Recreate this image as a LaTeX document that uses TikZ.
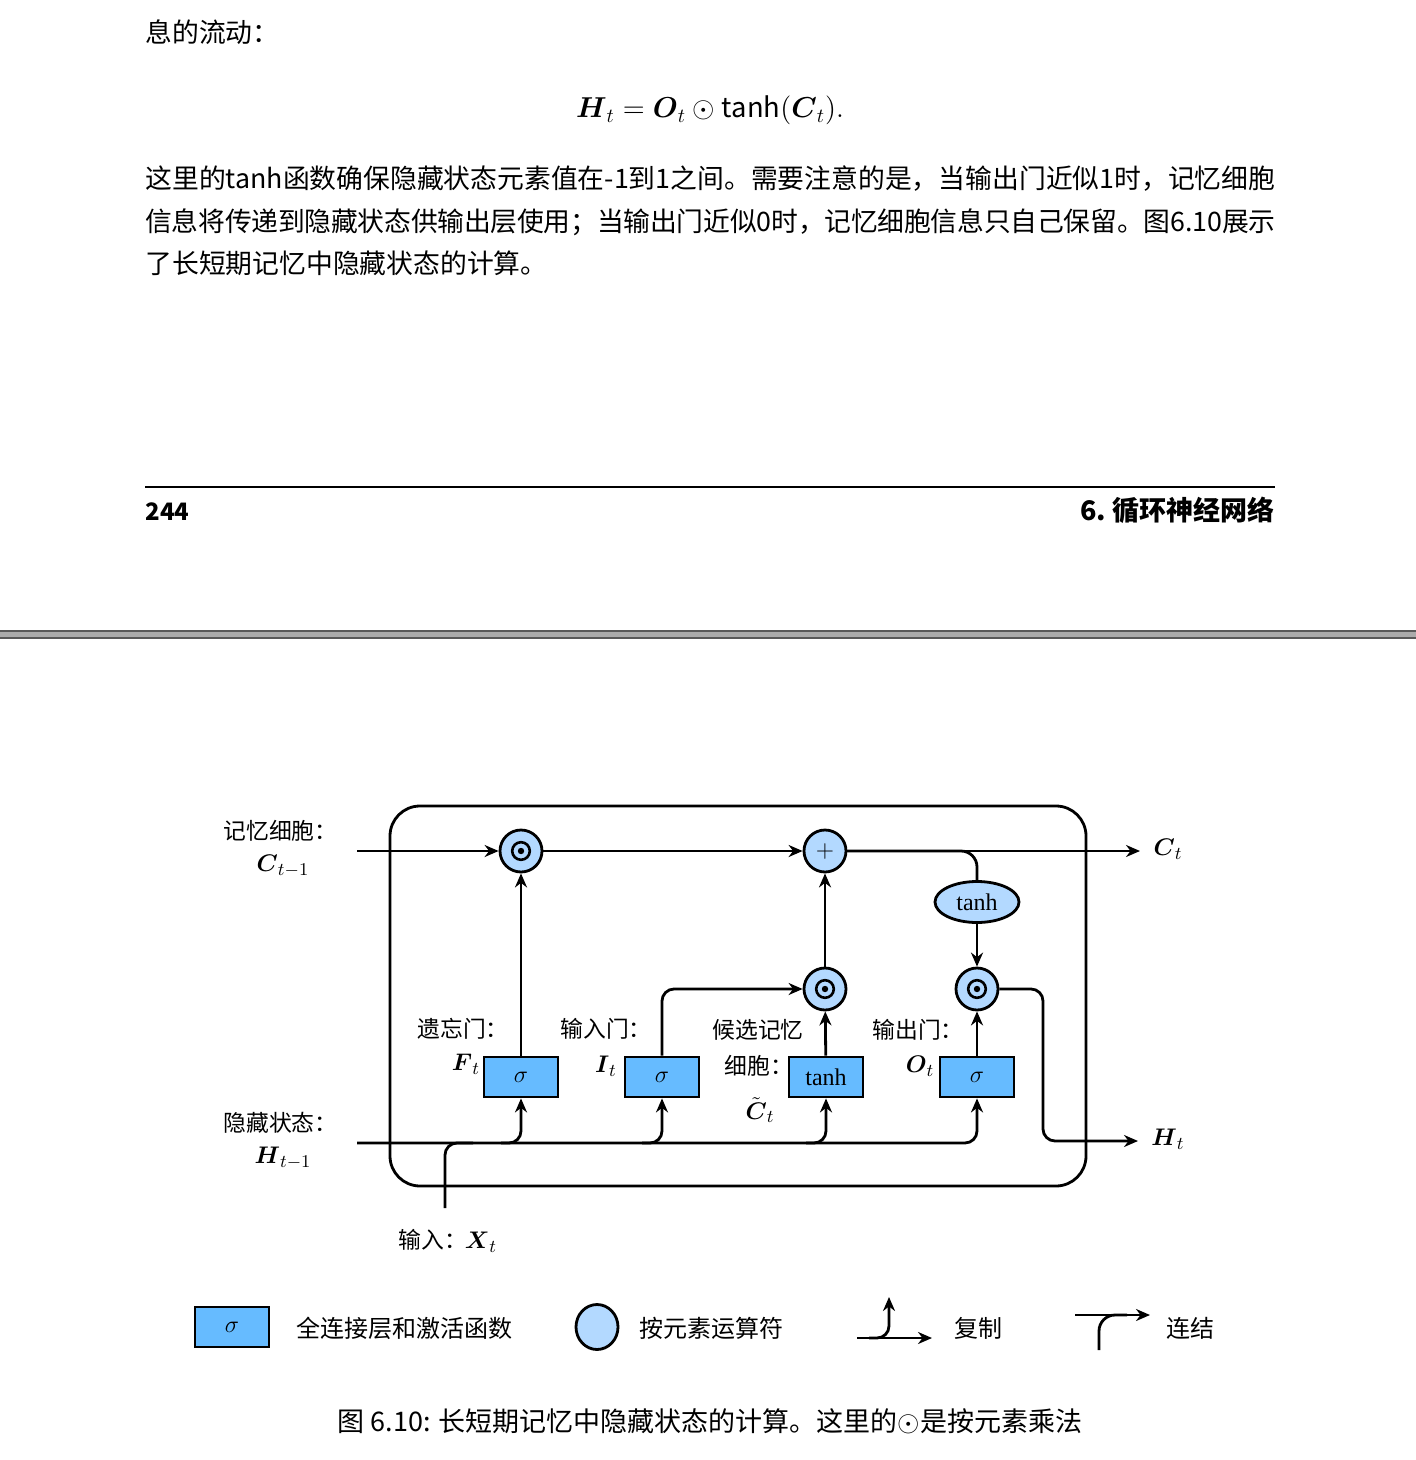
\documentclass[tikz,border=0pt]{standalone}
\usepackage{fontspec}
\usepackage{amsmath}
\setmainfont{Noto Sans CJK SC}
\newfontfamily\timesf{Liberation Serif}
\XeTeXlinebreaklocale "zh"
\XeTeXlinebreakskip=0pt plus 3pt minus 1pt
\usetikzlibrary{arrows.meta,shapes.geometric,calc}
\definecolor{layerblue}{RGB}{102,187,255}
\definecolor{opblue}{RGB}{179,217,255}
\newcommand{\fullline}[1]{\parbox[t]{565pt}{\tolerance=9999\parfillskip=0pt #1}}

\begin{document}
\begin{tikzpicture}[x=0.5pt,y=-0.5pt,>={Stealth[length=7pt,width=6pt]},
  every node/.style={font=\fontsize{11}{13}\selectfont},
  layer/.style={draw,line width=1.4pt,fill=layerblue,minimum width=37pt,minimum height=20pt,inner sep=0pt,font=\timesf\fontsize{12}{14}\selectfont},
  elop/.style={circle,draw,line width=1.4pt,fill=opblue,minimum size=21pt,inner sep=0pt},
  mulop/.style={elop,path picture={\draw[black,line width=1.3pt] (path picture bounding box.center) circle (4.4pt);
    \fill[black] (path picture bounding box.center) circle (1.6pt);}},
  wire/.style={line width=1.4pt,rounded corners=6pt},
  lab/.style={anchor=west,inner sep=0pt,font=\fontsize{11.4}{13}\selectfont},
  mlab/.style={inner sep=0pt,font=\fontsize{13}{15}\selectfont},
  body/.style={anchor=base west,inner sep=0pt,font=\fontsize{13.4}{21.5}\selectfont}]
\useasboundingbox (0,0) rectangle (1415,1460);
% text of the page
\node[body] (l0) at (145,43) {息的流动：};
\node[anchor=base,font=\fontsize{13.7}{16}\selectfont] (eq) at (710,118) {$\boldsymbol{H}_t = \boldsymbol{O}_t \odot \tanh(\boldsymbol{C}_t).$};
\node[body] (l1) at (145,189) {\fullline{这里的tanh函数确保隐藏状态元素值在-1到1之间。需要注意的是，当输出门近似1时，记忆细胞}};
\node[body] (l2) at (145,232) {\fullline{信息将传递到隐藏状态供输出层使用；当输出门近似0时，记忆细胞信息只自己保留。图6.10展示}};
\node[body] (l3) at (145,274) {了长短期记忆中隐藏状态的计算。};
\draw[line width=0.6pt] (145,487) -- (1275,487);
\node[anchor=base west,inner sep=0pt,font=\bfseries\fontsize{12}{15}\selectfont] (pg) at (145,520) {244};
\node[anchor=base east,inner sep=0pt,font=\bfseries\fontsize{13.5}{15}\selectfont] (chap) at (1275,520) {6.\ 循环神经网络};
\filldraw[fill=black!33,draw=black!65,line width=0.6pt] (-5,631) rectangle (1420,638);
% cell
\draw[line width=1.4pt,rounded corners=15pt] (390,806) rectangle (1086,1186);
\node[mulop] (fmul) at (521,851) {};
\node[elop,font=\fontsize{13}{15}\selectfont] (add) at (825,851) {$+$};
\node[ellipse,draw,line width=1.4pt,fill=opblue,minimum width=42pt,minimum height=20.5pt,inner sep=0pt,font=\timesf\fontsize{12}{14}\selectfont] (ctanh) at (977,902) {tanh};
\node[mulop] (imul) at (825,989) {};
\node[mulop] (omul) at (977,989) {};
\node[layer] (fgate) at (521,1077) {$\sigma$};
\node[layer] (igate) at (662,1077) {$\sigma$};
\node[layer] (cand) at (826,1077) {tanh};
\node[layer] (ogate) at (977,1077) {$\sigma$};
\coordinate (cin) at (357,851);
\coordinate (cout) at (1140,851);
\coordinate (hin) at (357,1143);
\coordinate (hturn) at (1043,1141);
\coordinate (hout) at (1138,1141);
\coordinate (xin) at (445,1208);
\draw[wire,->] (cin) -- (fmul);
\draw[wire,->] (fmul) -- (add);
\draw[wire,->] (add) -- (cout);
\draw[wire,rounded corners=8pt] (add.east) -| (ctanh.north);
\draw[wire,->] (ctanh) -- (omul);
\draw[wire,->] (fgate) -- (fmul);
\draw[wire,->] (igate.north) |- (imul.west);
\draw[wire,->] (cand) -- (imul);
\draw[wire,->] (imul) -- (add);
\draw[wire,->] (ogate) -- (omul);
\draw[wire,->] (omul.east) -| (hturn) -- (hout);
\draw[wire,->] (hin) -| (ogate.south);
\foreach \g in {fgate,igate,cand}
  \draw[wire,->] ($(hin -| \g.south)+(-10pt,0)$) -| (\g.south);
\draw[wire] (xin) |- ($(xin |- hin)+(14pt,0)$);
% labels
\node[lab] (cprev) at (223,831) {记忆细胞：};
\node[mlab] (cprevm) at (283,866) {$\boldsymbol{C}_{t-1}$};
\node[lab] (hprev) at (223,1123) {隐藏状态：};
\node[mlab] (hprevm) at (283,1158) {$\boldsymbol{H}_{t-1}$};
\node[mlab] (ctl) at (1168,849) {$\boldsymbol{C}_t$};
\node[mlab] (htl) at (1168,1139) {$\boldsymbol{H}_t$};
\node[lab] (fgl) at (417,1029) {遗忘门：};
\node[mlab] (fgm) at (466,1064) {$\boldsymbol{F}_t$};
\node[lab] (igl) at (560,1029) {输入门：};
\node[mlab] (igm) at (606,1066) {$\boldsymbol{I}_t$};
\node[lab] (cal) at (712,1030) {候选记忆};
\node[lab] (cal2) at (724,1066) {细胞：};
\node[mlab] (cam) at (760,1110) {$\tilde{\boldsymbol{C}}_t$};
\node[lab] (ogl) at (872,1030) {输出门：};
\node[mlab] (ogm) at (920,1066) {$\boldsymbol{O}_t$};
\node[lab] (xl) at (398,1240) {输入：};
\node[mlab] (xm) at (481,1242) {$\boldsymbol{X}_t$};
% legend
\node[layer] (lglayer) at (232,1327) {$\sigma$};
\node[lab,font=\fontsize{12}{14}\selectfont] (lgtxt1) at (296,1328) {全连接层和激活函数};
\node[ellipse,draw,line width=1.4pt,fill=opblue,minimum width=21pt,minimum height=22.5pt,inner sep=0pt] (lgop) at (597,1327) {};
\node[lab,font=\fontsize{12}{14}\selectfont] (lgtxt2) at (639,1328) {按元素运算符};
\coordinate (cpl) at (857,1338);
\coordinate (cpr) at (932,1338);
\coordinate (cpu) at (889,1297);
\draw[wire,->] (cpl) -- (cpr);
\draw[wire,->] ($(cpu |- cpl)+(-10pt,0)$) -| (cpu);
\node[lab,font=\fontsize{12}{14}\selectfont] (lgtxt3) at (954,1328) {复制};
\coordinate (cnl) at (1075,1315);
\coordinate (cnr) at (1150,1315);
\coordinate (cnd) at (1099,1350);
\draw[wire,->] (cnl) -- (cnr);
\draw[wire,rounded corners=8pt] (cnd) |- ($(cnd |- cnl)+(14pt,0)$);
\node[lab,font=\fontsize{12}{14}\selectfont] (lgtxt4) at (1166,1328) {连结};
\node[anchor=base,font=\fontsize{13.5}{16}\selectfont] (cap) at (710,1431) {图 6.10: 长短期记忆中隐藏状态的计算。这里的$\odot$是按元素乘法};
\end{tikzpicture}
\end{document}
